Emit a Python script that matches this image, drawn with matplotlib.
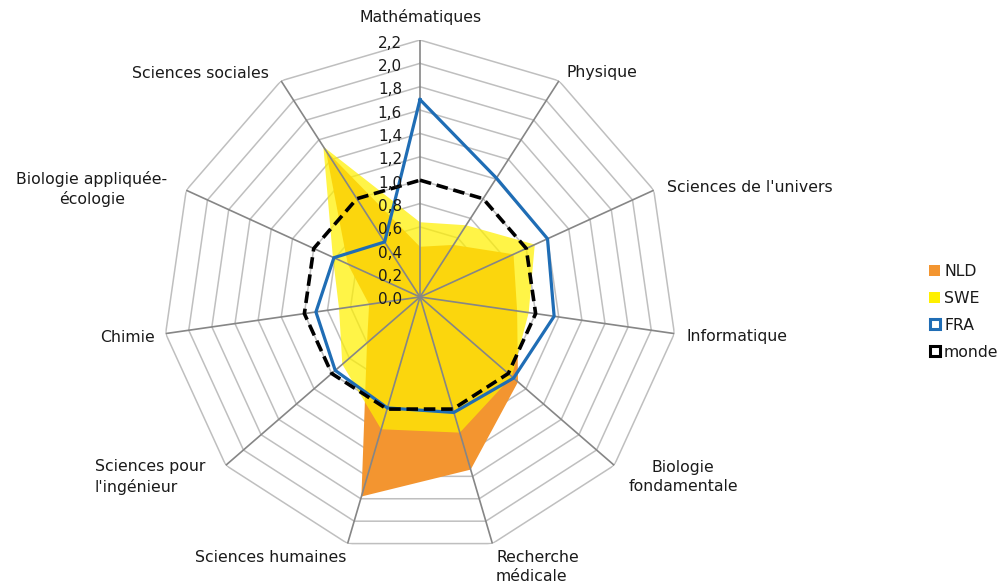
import numpy as np
import matplotlib
matplotlib.use("Agg")
import matplotlib.pyplot as plt
from matplotlib.patches import Patch
from matplotlib.lines import Line2D
from matplotlib.transforms import offset_copy

categories = ["Mathématiques", "Physique", "Sciences de l'univers", "Informatique",
              "Biologie\nfondamentale", "Recherche\nmédicale", "Sciences humaines",
              "Sciences pour\nl'ingénieur", "Chimie", "Biologie appliquée-\nécologie",
              "Sciences sociales"]
nld = [0.43, 0.53, 0.88, 0.84, 1.11, 1.54, 1.78, 0.60, 0.44, 0.68, 1.49]
swe = [0.64, 0.73, 1.08, 0.94, 1.04, 1.21, 1.18, 0.88, 0.70, 0.82, 1.53]
fra = [1.69, 1.21, 1.20, 1.16, 1.06, 1.03, 0.99, 0.96, 0.90, 0.81, 0.56]
monde = [1.0, 1.0, 1.0, 1.0, 1.0, 1.0, 1.0, 1.0, 1.0, 1.0, 1.0]
ticks = [0.0, 0.2, 0.4, 0.6, 0.8, 1.0, 1.2, 1.4, 1.6, 1.8, 2.0, 2.2]
tick_labels = ["0,0", "0,2", "0,4", "0,6", "0,8", "1,0", "1,2", "1,4", "1,6", "1,8", "2,0", "2,2"]

W, H = 999, 587
fig = plt.figure(figsize=(W / 100, H / 100), dpi=100)
cx, cy, R = 420, 297, 257
ax = fig.add_axes([(cx - R) / W, (H - cy - R) / H, 2 * R / W, 2 * R / H], projection="polar")
ax.set_theta_zero_location("N")
ax.set_theta_direction(-1)
ax.set_ylim(0, ticks[-1])
ax.grid(False)
ax.spines["polar"].set_visible(False)
ax.set_xticks([])
ax.set_yticks([])
ax.patch.set_alpha(0)

n = len(categories)
theta = np.linspace(0, 2 * np.pi, n, endpoint=False)
tc = np.append(theta, theta[0])

def closed(v):
    return np.append(v, v[0])

# grid polygons
for t in ticks[1:]:
    ax.plot(tc, [t] * (n + 1), color="#BFBFBF", lw=1.1, zorder=1)
for th in theta:
    ax.plot([th, th], [0, ticks[-1]], color="#868686", lw=1.2, zorder=4)

ax.fill(tc, closed(nld), color="#F39530", lw=0, zorder=2)
ax.fill(tc, closed(swe), color="#FFF000", alpha=0.72, lw=0, zorder=3)
ax.plot(tc, closed(fra), color="#1F6DB5", lw=2.3, zorder=5)
ax.plot(tc, closed(monde), color="black", lw=2.6, ls=(0, (3.2, 1.6)), zorder=6)

font = "DejaVu Sans"
tcol = "#1A1A1A"
trans = offset_copy(ax.transData, fig=fig, x=-18, y=-3, units="dots")
for t, lab in zip(ticks, tick_labels):
    ax.text(0, t, lab, transform=trans, ha="right", va="center", fontsize=11,
            color=tcol, family=font, zorder=7)

# category labels (pixel positions of the reference)
label_pos = [
    (421, 17, "center", "center"), (566, 73, "left", "left"), (667, 187, "left", "left"),
    (687, 337, "left", "left"), (683, 477, "center", "center"), (496, 567, "left", "left"),
    (346, 557, "right", "right"), (95, 477, "left", "left"), (155, 337, "right", "right"),
    (92, 189, "center", "center"), (269, 73, "right", "right"),
]
for lab, (x, y, ha, ma) in zip(categories, label_pos):
    fig.text(x / W, 1 - y / H, lab, ha=ha, va="center", multialignment=ma, fontsize=11.3,
             color=tcol, family=font, linespacing=1.35)

handles = [
    Patch(facecolor="#F39530", edgecolor="none", label="NLD"),
    Patch(facecolor="#FFF000", edgecolor="none", label="SWE"),
    Line2D([], [], color="#1F6DB5", marker="s", markersize=7, markerfacecolor="white",
           markeredgewidth=2.2, ls="none", label="FRA"),
    Line2D([], [], color="black", marker="s", markersize=7, markerfacecolor="white",
           markeredgewidth=2.2, ls="none", label="monde"),
]
fig.legend(handles=handles, loc="center left", bbox_to_anchor=(915 / W, 1 - 312 / H),
           frameon=False, handlelength=0.7, handleheight=0.7,
           handletextpad=0.25, labelspacing=0.75, prop={"family": font, "size": 11.3},
           labelcolor=tcol)

fig.savefig("out.png", dpi=100)
